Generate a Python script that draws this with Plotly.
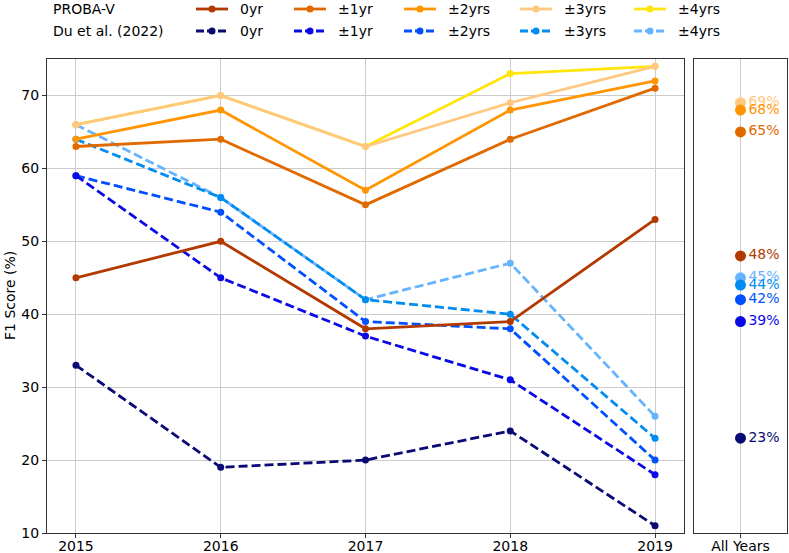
import plotly.graph_objects as go

# ---------------- data ----------------
years = ["2015", "2016", "2017", "2018", "2019"]
all_years_label = ["All Years"]
tol_labels = ["0yr", "±1yr", "±2yrs", "±3yrs", "±4yrs"]

proba_0yr = [45, 50, 38, 39, 53]
proba_1yr = [63, 64, 55, 64, 71]
proba_2yr = [64, 68, 57, 68, 72]
proba_3yr = [66, 70, 63, 69, 74]
proba_4yr = [66, 70, 63, 73, 74]

du_0yr = [33, 19, 20, 24, 11]
du_1yr = [59, 45, 37, 31, 18]
du_2yr = [59, 54, 39, 38, 20]
du_3yr = [64, 56, 42, 40, 23]
du_4yr = [66, 56, 42, 47, 26]

proba_all = [48, 65, 68, 69, None]
du_all = [23, 39, 42, 44, 45]

# ---------------- style ----------------
proba_colors = ["#B23A00", "#E06A00", "#FF9500", "#FFC880", "#FFE50A"]
du_colors = ["#0A0A75", "#0A0AE6", "#0050FF", "#008CF0", "#66B3FF"]
FONT = "DejaVu Sans"
W, H = 789, 553
ML, MR, MT, MB = 47, 2, 59, 20
PW, PH = W - ML - MR, H - MT - MB

proba_series = [proba_0yr, proba_1yr, proba_2yr, proba_3yr, proba_4yr]
du_series = [du_0yr, du_1yr, du_2yr, du_3yr, du_4yr]

fig = go.Figure()

# Du et al. lines (drawn first, largest tolerance at the bottom)
for i in reversed(range(5)):
    fig.add_trace(go.Scatter(
        x=years, y=du_series[i], mode="lines+markers",
        line=dict(color=du_colors[i], width=2.8, dash="9px,4px"),
        marker=dict(color=du_colors[i], size=7),
        name="Du et al. (2022) " + tol_labels[i], showlegend=False,
        xaxis="x", yaxis="y"))

# PROBA-V lines
for i in reversed(range(5)):
    fig.add_trace(go.Scatter(
        x=years, y=proba_series[i], mode="lines+markers",
        line=dict(color=proba_colors[i], width=2.8),
        marker=dict(color=proba_colors[i], size=7),
        name="PROBA-V " + tol_labels[i], showlegend=False,
        xaxis="x", yaxis="y"))

# All-years panel
for vals, cols in ((du_all, du_colors), (proba_all, proba_colors)):
    for i in reversed(range(5)):
        v = vals[i]
        if v is None:
            continue
        fig.add_trace(go.Scatter(
            x=all_years_label, y=[v], mode="markers+text",
            marker=dict(color=cols[i], size=11),
            text=[f"{v}%"], textposition="middle right",
            textfont=dict(color=cols[i], size=14, family=FONT),
            showlegend=False, cliponaxis=False,
            xaxis="x2", yaxis="y2"))

# ---------------- manual legend ----------------
def px_x(p):
    return (p - ML) / PW

def px_y(p):
    return (H - MB - p) / PH

shapes = []
annotations = []
row_y = [9, 31]
headers = ["PROBA-V", "Du et al. (2022)"]
line_starts = [196, 294, 404, 520, 634]
for r in range(2):
    annotations.append(dict(
        x=px_x(52), y=px_y(row_y[r]), xref="paper", yref="paper",
        text=headers[r], showarrow=False, xanchor="left", yanchor="middle",
        borderpad=0, font=dict(size=14, family=FONT, color="#000")))
    cols = proba_colors if r == 0 else du_colors
    dash = "solid" if r == 0 else "8px,3px"
    for c in range(5):
        x0 = line_starts[c]
        shapes.append(dict(
            type="line", xref="paper", yref="paper",
            x0=px_x(x0), x1=px_x(x0 + 32), y0=px_y(row_y[r]), y1=px_y(row_y[r]),
            line=dict(color=cols[c], width=2.8, dash=dash)))
        shapes.append(dict(
            type="circle", xref="paper", yref="paper",
            x0=px_x(x0 + 16 - 3.5), x1=px_x(x0 + 16 + 3.5),
            y0=px_y(row_y[r] - 3.5), y1=px_y(row_y[r] + 3.5),
            fillcolor=cols[c], line=dict(color=cols[c], width=0)))
        annotations.append(dict(
            x=px_x(x0 + 43), y=px_y(row_y[r]), xref="paper", yref="paper",
            text=tol_labels[c], showarrow=False, xanchor="left", yanchor="middle",
            borderpad=0, font=dict(size=14, family=FONT, color="#000")))

# y-axis title
annotations.append(dict(
    x=px_x(10), y=px_y((MT + H - MB) / 2), xref="paper", yref="paper",
    text="F1 Score (%)", showarrow=False, textangle=-90,
    xanchor="center", yanchor="middle",
    font=dict(size=14, family=FONT, color="#000")))

axis_common = dict(
    showline=True, linecolor="#333333", linewidth=1.2, mirror=True,
    ticks="outside", ticklen=4, tickcolor="#333333",
    tickfont=dict(size=14, family=FONT, color="#000"),
    zeroline=False, automargin=False,
)

fig.update_layout(
    width=W, height=H,
    margin=dict(l=ML, r=MR, t=MT, b=MB, autoexpand=False),
    paper_bgcolor="white", plot_bgcolor="white",
    font=dict(family=FONT, size=14, color="#000"),
    showlegend=False,
    xaxis=dict(domain=[0, px_x(684)], type="category", range=[-0.2, 4.2],
               showgrid=True, gridcolor="#cccccc", gridwidth=1,
               ticklabelstandoff=-4, **axis_common),
    yaxis=dict(range=[10, 75], tickvals=[10, 20, 30, 40, 50, 60, 70],
               showgrid=True, gridcolor="#cccccc", gridwidth=1,
               **axis_common),
    xaxis2=dict(domain=[px_x(694), 1.0], type="category", range=[-0.5, 0.5],
                anchor="y2", showgrid=True, gridcolor="#cccccc", gridwidth=1,
                ticklabelstandoff=-4, **axis_common),
    yaxis2=dict(range=[10, 75], anchor="x2", showgrid=False,
                showticklabels=False, showline=True, linecolor="#333333",
                linewidth=1.2, mirror=True, ticks="", zeroline=False,
                automargin=False),
    shapes=shapes,
    annotations=annotations,
)

fig.write_html(
    "out.html",
    config={"displayModeBar": False},
    post_script="document.body.style.margin='0';document.body.style.overflow='hidden';",
)
